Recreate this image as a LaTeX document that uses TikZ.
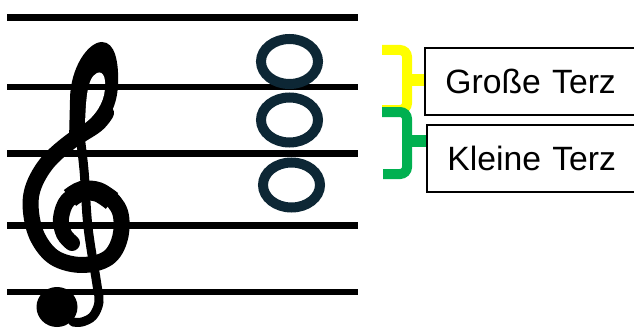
\documentclass[tikz,border=0pt]{standalone}
\usepackage{fontspec}
\setmainfont{Liberation Sans}
\definecolor{notecol}{RGB}{13,39,53}
\definecolor{braceyellow}{RGB}{255,255,0}
\definecolor{bracegreen}{RGB}{0,176,80}
\begin{document}
\begin{tikzpicture}[x=1pt,y=-1pt,
  staffline/.style={line width=6.5pt},
  notehead/.style={draw=notecol, line width=10pt},
  clefstroke/.style={line width=16pt, line cap=round, line join=round},
  bracestroke/.style={line width=10pt, rounded corners=7pt},
  bracetip/.style={line width=12pt},
  labelbox/.style={draw=black, line width=1.8pt, minimum height=67pt,
    text width=175pt, inner xsep=20.5pt, inner ysep=0pt, align=left,
    font=\fontsize{33.7}{37}\selectfont, anchor=north west}
]
\useasboundingbox (0,0) rectangle (634,329);

% treble clef: upper loop
\fill (69,140) -- (70,100) .. controls (70,68) and (88,42) .. (102,42)
  .. controls (115,42) and (119,62) .. (118,85)
  .. controls (117,105) and (110,118) .. (98,130) -- cycle;
% main sweep down, round the bottom and into the spiral
\draw[clefstroke] plot[smooth, tension=0.6] coordinates {(106,113) (96,125) (70,142) (47,163) (33,188) (31,212) (38,238) (55,258) (82,265) (108,258) (120,238) (120,212) (106,195) (86,192) (68,200) (61,218) (64,234) (72,243)};
% heavier top of the spiral
\draw[line width=20pt] plot[smooth, tension=0.6] coordinates {(112,201) (98,192) (82,191) (70,198)};
% stem with hook
\draw[line width=9pt, line cap=round] plot[smooth, tension=0.6] coordinates {(79,128) (84,170) (88,227) (97,285) (99,302) (93,316) (82,322) (73,322)};
% ball at the end of the hook
\fill (57,307) ellipse [x radius=20.5pt, y radius=20pt];
% opening of the upper loop
\fill[white] (85,123) .. controls (86,105) and (86,78) .. (97,73)
  .. controls (104,70) and (107,80) .. (104,95)
  .. controls (101,108) and (92,118) .. (85,123) -- cycle;

% staff
\foreach \y in {17.5,87,153.5,225.5,292}
  \draw[staffline] (7,\y) -- (358,\y);

% whole notes of the chord
\draw[notehead] (289.5,61.5) ellipse [x radius=28.5pt, y radius=22.5pt];
\draw[notehead] (289.5,120) ellipse [x radius=28.5pt, y radius=22.5pt];
\draw[notehead] (291.5,185) ellipse [x radius=28.5pt, y radius=22.5pt];

% braces for the two thirds
\draw[bracestroke, draw=braceyellow] (382,50) -- (407,50) -- (407,110) -- (382,110);
\draw[bracetip, draw=braceyellow] (405,80) -- (425,80);
\draw[bracestroke, draw=bracegreen] (382,112) -- (407,112) -- (407,174) -- (383,174);
\draw[bracetip, draw=bracegreen] (405,141) -- (427,141);

% labels
\node[labelbox] (major) at (424,47) {Große Terz};
\node[labelbox] (minor) at (426,124) {Kleine Terz};
\end{tikzpicture}
\end{document}
